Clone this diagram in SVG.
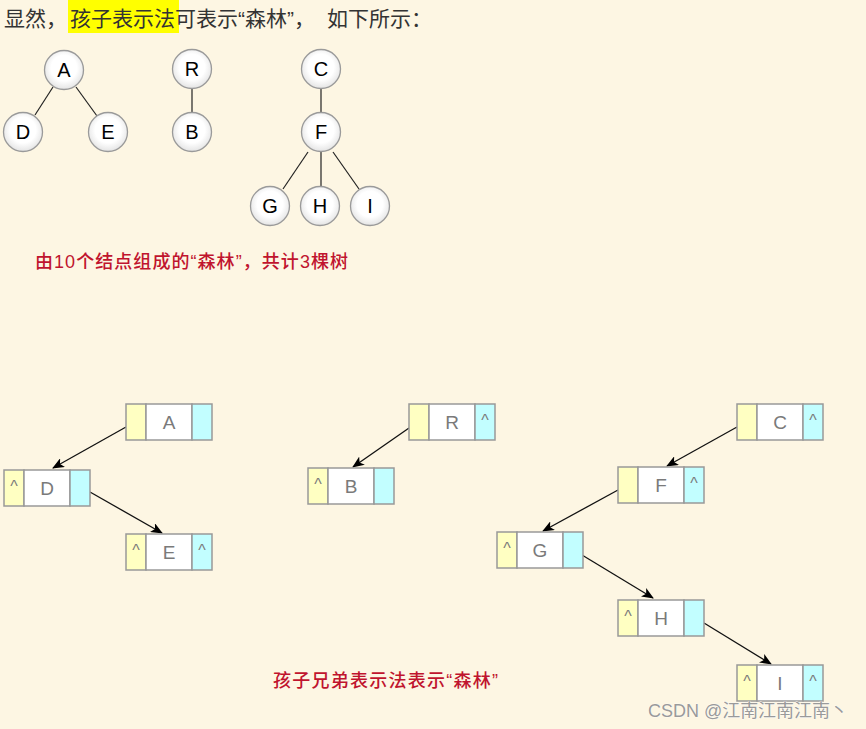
<svg xmlns="http://www.w3.org/2000/svg" width="866" height="729" viewBox="0 0 866 729">
<defs>
<radialGradient id="cg" cx="50%" cy="45%" r="55%">
<stop offset="0.6" stop-color="#ffffff"/>
<stop offset="1" stop-color="#e4e4e4"/>
</radialGradient>
<marker id="ah" markerWidth="12" markerHeight="10" refX="11" refY="5" orient="auto" markerUnits="userSpaceOnUse">
<path d="M0,0 L12,5 L0,10 L3,5 Z" fill="#000"/>
</marker>
<style>
.bg{fill:#FDF6E3}
.cn{font-family:"Liberation Sans","Noto Sans CJK SC",sans-serif}
.ct{fill:url(#cg);stroke:#9a9a9a;stroke-width:1.3}
.cl{font-family:"Liberation Sans",Arial,sans-serif;font-size:20px;fill:#000;text-anchor:middle}
.tl{stroke:#222;stroke-width:1.2;fill:none}
.y{fill:#FFFFC2;stroke:#999;stroke-width:1.5}
.w{fill:#ffffff;stroke:#999;stroke-width:1.5}
.c{fill:#C2FEFF;stroke:#999;stroke-width:1.5}
.nl{font-family:"Liberation Sans",Arial,sans-serif;font-size:19px;fill:#7a7a7a;text-anchor:middle}
.nu{font-family:"Liberation Sans",Arial,sans-serif;font-size:16px;fill:#7a7a7a;text-anchor:middle}
.ar{stroke:#111;stroke-width:1.3;fill:none;marker-end:url(#ah)}
.red{fill:#C0142E;font-size:18px;font-weight:500}
</style>
</defs>
<rect class="bg" x="0" y="0" width="866" height="729"/>

<g id="title">
<rect x="68" y="0" width="111" height="33" fill="#FFFF00"/>
<text class="cn" x="4" y="26" font-size="21" fill="#333">显然，<tspan x="70">孩子表示法可表示“森林”，</tspan><tspan x="327">如下所示：</tspan></text>
</g>

<g id="tree-edges">
<line class="tl" x1="53" y1="87" x2="35" y2="115"/>
<line class="tl" x1="76" y1="87" x2="97" y2="116"/>
<line class="tl" x1="192" y1="89" x2="192" y2="112"/>
<line class="tl" x1="321" y1="89" x2="321" y2="112"/>
<line class="tl" x1="308" y1="152" x2="283" y2="189"/>
<line class="tl" x1="321" y1="152" x2="321" y2="186"/>
<line class="tl" x1="333" y1="152" x2="359" y2="189"/>
</g>

<g id="tA"><circle class="ct" cx="64" cy="70" r="19.5"/><text class="cl" x="64" y="77">A</text></g>
<g id="tD"><circle class="ct" cx="23" cy="132" r="19.5"/><text class="cl" x="23" y="139">D</text></g>
<g id="tE"><circle class="ct" cx="108" cy="132" r="19.5"/><text class="cl" x="108" y="139">E</text></g>
<g id="tR"><circle class="ct" cx="192" cy="69" r="19.5"/><text class="cl" x="192" y="76">R</text></g>
<g id="tB"><circle class="ct" cx="192" cy="132" r="19.5"/><text class="cl" x="192" y="139">B</text></g>
<g id="tC"><circle class="ct" cx="321" cy="69" r="19.5"/><text class="cl" x="321" y="76">C</text></g>
<g id="tF"><circle class="ct" cx="321" cy="132" r="19.5"/><text class="cl" x="321" y="139">F</text></g>
<g id="tG"><circle class="ct" cx="270" cy="206" r="19.5"/><text class="cl" x="270" y="213">G</text></g>
<g id="tH"><circle class="ct" cx="320" cy="206" r="19.5"/><text class="cl" x="320" y="213">H</text></g>
<g id="tI"><circle class="ct" cx="370" cy="206" r="19.5"/><text class="cl" x="370" y="213">I</text></g>

<g id="caption1">
<text class="cn red" x="35" y="268" textLength="313" lengthAdjust="spacing">由10个结点组成的“森林”，共计3棵树</text>
</g>

<g id="connectors">
<line class="ar" x1="126" y1="427" x2="53" y2="468"/>
<line class="ar" x1="90" y1="492" x2="162" y2="533"/>
<line class="ar" x1="409" y1="428" x2="353" y2="467"/>
<line class="ar" x1="737" y1="427" x2="667" y2="466"/>
<line class="ar" x1="618" y1="490" x2="543" y2="531"/>
<line class="ar" x1="582" y1="555" x2="653" y2="598"/>
<line class="ar" x1="704" y1="623" x2="771" y2="664"/>
</g>

<g id="nA"><rect class="y" x="126" y="404" width="20" height="36"/><rect class="w" x="146" y="404" width="46" height="36"/><rect class="c" x="192" y="404" width="20" height="36"/><text class="nl" x="169" y="429">A</text></g>
<g id="nD"><rect class="y" x="4" y="470" width="20" height="36"/><rect class="w" x="24" y="470" width="46" height="36"/><rect class="c" x="70" y="470" width="20" height="36"/><text class="nu" x="14" y="492">^</text><text class="nl" x="47" y="495">D</text></g>
<g id="nE"><rect class="y" x="126" y="534" width="20" height="36"/><rect class="w" x="146" y="534" width="46" height="36"/><rect class="c" x="192" y="534" width="20" height="36"/><text class="nu" x="136" y="556">^</text><text class="nl" x="169" y="559">E</text><text class="nu" x="202" y="556">^</text></g>
<g id="nR"><rect class="y" x="409" y="404" width="20" height="36"/><rect class="w" x="429" y="404" width="46" height="36"/><rect class="c" x="475" y="404" width="20" height="36"/><text class="nl" x="452" y="429">R</text><text class="nu" x="485" y="426">^</text></g>
<g id="nB"><rect class="y" x="308" y="468" width="20" height="36"/><rect class="w" x="328" y="468" width="46" height="36"/><rect class="c" x="374" y="468" width="20" height="36"/><text class="nu" x="318" y="490">^</text><text class="nl" x="351" y="493">B</text></g>
<g id="nC"><rect class="y" x="737" y="404" width="20" height="36"/><rect class="w" x="757" y="404" width="46" height="36"/><rect class="c" x="803" y="404" width="20" height="36"/><text class="nl" x="780" y="429">C</text><text class="nu" x="813" y="426">^</text></g>
<g id="nF"><rect class="y" x="618" y="467" width="20" height="36"/><rect class="w" x="638" y="467" width="46" height="36"/><rect class="c" x="684" y="467" width="20" height="36"/><text class="nl" x="661" y="492">F</text><text class="nu" x="694" y="489">^</text></g>
<g id="nG"><rect class="y" x="497" y="532" width="20" height="36"/><rect class="w" x="517" y="532" width="46" height="36"/><rect class="c" x="563" y="532" width="20" height="36"/><text class="nu" x="507" y="554">^</text><text class="nl" x="540" y="557">G</text></g>
<g id="nH"><rect class="y" x="618" y="600" width="20" height="36"/><rect class="w" x="638" y="600" width="46" height="36"/><rect class="c" x="684" y="600" width="20" height="36"/><text class="nu" x="628" y="622">^</text><text class="nl" x="661" y="625">H</text></g>
<g id="nI"><rect class="y" x="737" y="665" width="20" height="36"/><rect class="w" x="757" y="665" width="46" height="36"/><rect class="c" x="803" y="665" width="20" height="36"/><text class="nu" x="747" y="687">^</text><text class="nl" x="780" y="690">I</text><text class="nu" x="813" y="687">^</text></g>

<g id="caption2">
<text class="cn red" x="273" y="687" textLength="225" lengthAdjust="spacing">孩子兄弟表示法表示“森林”</text>
</g>

<g id="watermark">
<text class="cn" x="648" y="717" font-size="18" fill="#9a9a9a" stroke="#ffffff" stroke-width="0.6" paint-order="stroke" textLength="200" lengthAdjust="spacing">CSDN @江南江南江南丶</text>
</g>
</svg>
